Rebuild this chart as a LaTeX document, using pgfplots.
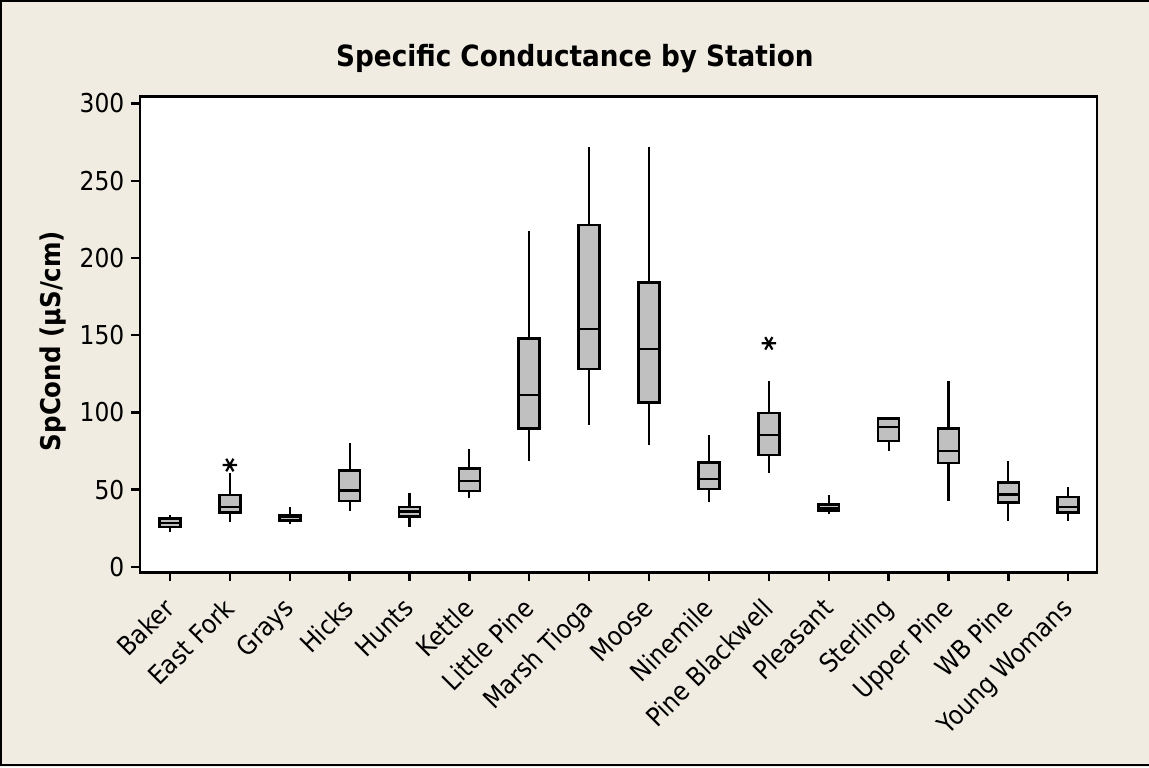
\documentclass[border=0pt]{standalone}
\usepackage{pgfplots}
\pgfplotsset{compat=1.18}
\usepackage{fontspec}
\setmainfont{DejaVu Sans Condensed}
\definecolor{bg}{RGB}{240,236,226}
\definecolor{boxgray}{RGB}{192,192,192}
\pgfplotsset{
  wh/.style={black, line width=1.1pt},
  bxs/.style={fill=boxgray, draw=black, line width=1.3pt},
  md/.style={black, line width=1.2pt},
}
\begin{document}
\begin{tikzpicture}
\useasboundingbox (0,0) rectangle (574.5pt,383.5pt);
\fill[bg] (0,0) rectangle (574.5pt,383.5pt);
\draw[line width=1.2pt] (575pt,382.9pt) -- (0.6pt,382.9pt) -- (0.6pt,1.1pt) -- (575pt,1.1pt);
\node[font=\fontsize{14.6}{18}\selectfont\bfseries] at (287.5pt,354.2pt) {Specific Conductance by Station};
\begin{axis}[
  at={(70pt,97.25pt)}, anchor=south west,
  scale only axis, width=478.5pt, height=237.9pt,
  xmin=0.5, xmax=16.48, ymin=-3.7, ymax=304.4,
  xtick={1,...,16},
  xticklabels={Baker,East Fork,Grays,Hicks,Hunts,Kettle,Little Pine,Marsh Tioga,Moose,Ninemile,Pine Blackwell,Pleasant,Sterling,Upper Pine,WB Pine,Young Womans},
  ytick={0,50,...,300},
  tick align=outside, xtick pos=lower, ytick pos=left,
  major tick length=4.3pt,
  tick style={line width=1.2pt, black},
  axis line style={line width=1.3pt},
  axis background/.style={fill=white},
  /pgf/number format/assume math mode=true,
  tick label style={font=\fontsize{13}{15}\selectfont},
  xticklabel style={xshift=-4pt, rotate=45, anchor=north east, inner sep=1pt},
  xticklabel shift=6pt,
  ylabel={SpCond (µS/cm)},
  ylabel style={font=\fontsize{13.6}{16}\selectfont\bfseries, at={(axis description cs:-0.0914,0.4866)}, anchor=center},
]
% Baker
\addplot[wh] coordinates {(1,22.3) (1,33.5)};
\addplot[bxs] coordinates {(0.825,25.7) (1.175,25.7) (1.175,31.3) (0.825,31.3)} --cycle;
\addplot[md] coordinates {(0.825,28.5) (1.175,28.5)};
% East Fork
\addplot[wh] coordinates {(2,28.7) (2,60.5)};
\addplot[bxs] coordinates {(1.825,35.0) (2.175,35.0) (2.175,46.4) (1.825,46.4)} --cycle;
\addplot[md] coordinates {(1.825,38.9) (2.175,38.9)};
% Grays
\addplot[wh] coordinates {(3,27.4) (3,38.5)};
\addplot[bxs] coordinates {(2.825,29.8) (3.175,29.8) (3.175,33.5) (2.825,33.5)} --cycle;
\addplot[md] coordinates {(2.825,32.2) (3.175,32.2)};
% Hicks
\addplot[wh] coordinates {(4,36.3) (4,79.9)};
\addplot[bxs] coordinates {(3.825,42.7) (4.175,42.7) (4.175,62.2) (3.825,62.2)} --cycle;
\addplot[md] coordinates {(3.825,49.5) (4.175,49.5)};
% Hunts
\addplot[wh] coordinates {(5,25.9) (5,47.5)};
\addplot[bxs] coordinates {(4.825,32.4) (5.175,32.4) (5.175,38.7) (4.825,38.7)} --cycle;
\addplot[md] coordinates {(4.825,35.9) (5.175,35.9)};
% Kettle
\addplot[wh] coordinates {(6,44.3) (6,76.0)};
\addplot[bxs] coordinates {(5.825,49.2) (6.175,49.2) (6.175,63.5) (5.825,63.5)} --cycle;
\addplot[md] coordinates {(5.825,55.7) (6.175,55.7)};
% Little Pine
\addplot[wh] coordinates {(7,68.7) (7,217.4)};
\addplot[bxs] coordinates {(6.825,89.4) (7.175,89.4) (7.175,147.7) (6.825,147.7)} --cycle;
\addplot[md] coordinates {(6.825,111.4) (7.175,111.4)};
% Marsh Tioga
\addplot[wh] coordinates {(8,92.0) (8,271.8)};
\addplot[bxs] coordinates {(7.825,128.2) (8.175,128.2) (8.175,221.3) (7.825,221.3)} --cycle;
\addplot[md] coordinates {(7.825,154.1) (8.175,154.1)};
% Moose
\addplot[wh] coordinates {(9,79.0) (9,271.8)};
\addplot[bxs] coordinates {(8.825,106.2) (9.175,106.2) (9.175,183.9) (8.825,183.9)} --cycle;
\addplot[md] coordinates {(8.825,141.2) (9.175,141.2)};
% Ninemile
\addplot[wh] coordinates {(10,41.7) (10,85.1)};
\addplot[bxs] coordinates {(9.825,50.3) (10.175,50.3) (10.175,67.4) (9.825,67.4)} --cycle;
\addplot[md] coordinates {(9.825,57.0) (10.175,57.0)};
% Pine Blackwell
\addplot[wh] coordinates {(11,60.9) (11,120.3)};
\addplot[bxs] coordinates {(10.825,72.5) (11.175,72.5) (11.175,99.7) (10.825,99.7)} --cycle;
\addplot[md] coordinates {(10.825,85.5) (11.175,85.5)};
% Pleasant
\addplot[wh] coordinates {(12,33.9) (12,46.2)};
\addplot[bxs] coordinates {(11.825,36.3) (12.175,36.3) (12.175,40.2) (11.825,40.2)} --cycle;
\addplot[md] coordinates {(11.825,38.2) (12.175,38.2)};
% Sterling
\addplot[wh] coordinates {(13,75.1) (13,96.8)};
\addplot[bxs] coordinates {(12.825,81.4) (13.175,81.4) (13.175,95.9) (12.825,95.9)} --cycle;
\addplot[md] coordinates {(12.825,90.5) (13.175,90.5)};
% Upper Pine
\addplot[wh] coordinates {(14,42.7) (14,120.3)};
\addplot[bxs] coordinates {(13.825,67.2) (14.175,67.2) (14.175,89.4) (13.825,89.4)} --cycle;
\addplot[md] coordinates {(13.825,75.1) (14.175,75.1)};
% WB Pine
\addplot[wh] coordinates {(15,29.8) (15,68.3)};
\addplot[bxs] coordinates {(14.825,41.5) (15.175,41.5) (15.175,54.4) (14.825,54.4)} --cycle;
\addplot[md] coordinates {(14.825,46.9) (15.175,46.9)};
% Young Womans
\addplot[wh] coordinates {(16,29.8) (16,51.4)};
\addplot[bxs] coordinates {(15.825,35.0) (16.175,35.0) (16.175,45.3) (15.825,45.3)} --cycle;
\addplot[md] coordinates {(15.825,38.9) (16.175,38.9)};
% outliers
\addplot[only marks, mark=asterisk, mark size=3.6pt, mark options={rotate=90, line width=1.1pt, black}] coordinates {(2,65.9) (11,144.7)};
\end{axis}
\end{tikzpicture}
\end{document}
